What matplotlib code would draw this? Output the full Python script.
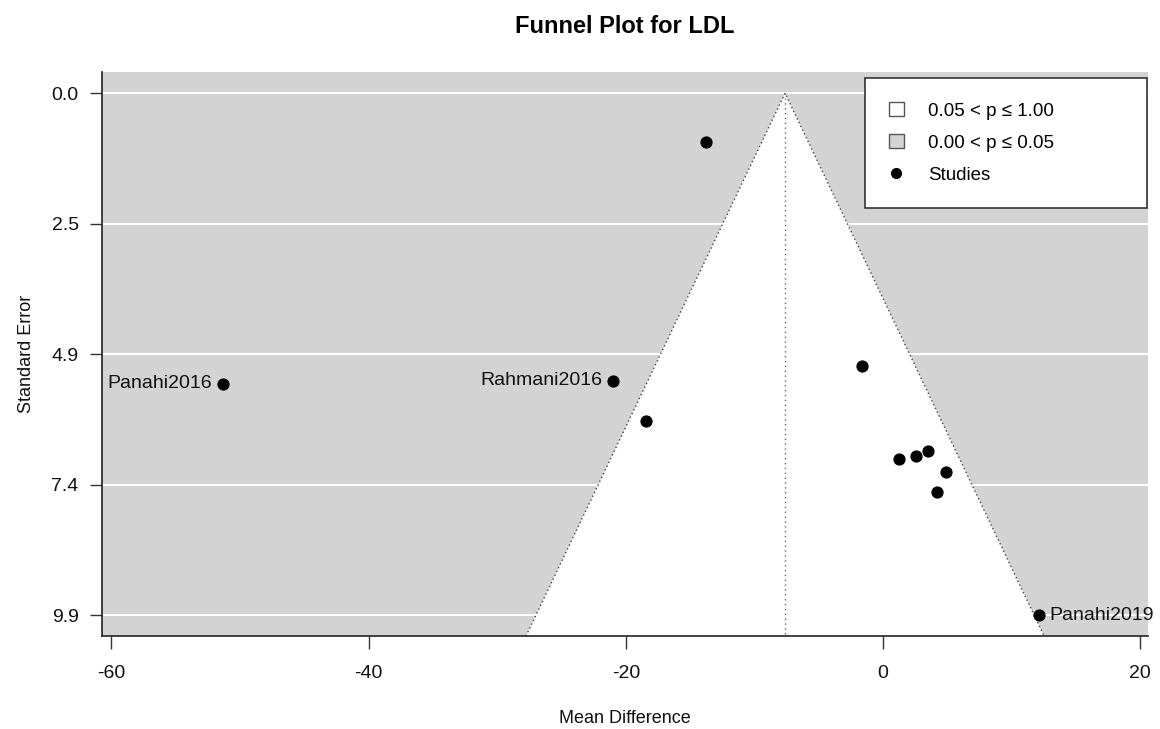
import numpy as np
import matplotlib.pyplot as plt
from matplotlib.patches import Patch, Polygon
from matplotlib.lines import Line2D

plt.rcParams['font.family'] = ['Liberation Sans', 'DejaVu Sans']
plt.rcParams['axes.unicode_minus'] = False

# study estimates (mean difference) and standard errors
est = [-13.73, -51.3, -20.96, -18.42, -1.61, 1.27, 2.59, 3.47, 4.92, 4.17, 12.16]
se = [0.915, 5.50, 5.44, 6.21, 5.17, 6.92, 6.86, 6.78, 7.17, 7.55, 9.88]
labels = ['', 'Panahi2016', 'Rahmani2016', '', '', '', '', '', '', '', 'Panahi2019']
label_side = ['', 'left', 'left', '', '', '', '', '', '', '', 'right']
pooled = -7.62
x_ticks = [-60, -40, -20, 0, 20]

fig = plt.figure(figsize=(11.6, 7.29), dpi=100)
ax = fig.add_axes([0.0882, 0.1276, 0.9015, 0.7732])

se_max = max(se)
pad = 0.04 * se_max
ylo, yhi = -pad, se_max + pad
ax.set_ylim(yhi, ylo)
ax.set_xlim(-60.7, 20.6)
ax.set_facecolor('#d3d3d3')

# white funnel (non-significant region)
z = 1.96
funnel = Polygon([(pooled - z * yhi, yhi), (pooled, 0), (pooled + z * yhi, yhi)],
                 closed=True, facecolor='white', edgecolor='none', zorder=1)
ax.add_patch(funnel)

yt = np.linspace(0, se_max, 5)
for y in yt:
    ax.axhline(y, color='white', lw=1.5, zorder=0.5)

ax.plot([pooled - z * yhi, pooled, pooled + z * yhi], [yhi, 0, yhi],
        color='#444444', lw=1, ls=(0, (1, 2)), zorder=2)
ax.plot([pooled, pooled], [0, yhi], color='#666666', lw=1, ls=(0, (1, 2.5)), zorder=2)

ax.plot(est, se, 'o', color='black', ms=7.8, zorder=3)
for x, y, lab, side in zip(est, se, labels, label_side):
    if not lab:
        continue
    if side == 'left':
        ax.text(x - 0.9, y, lab, ha='right', va='center', fontsize=14, color='#111111', zorder=4)
    else:
        ax.text(x + 0.8, y, lab, ha='left', va='center', fontsize=14, color='#111111', zorder=4)

ax.set_yticks(yt)
ax.set_yticklabels(['%.1f' % v for v in yt])
ax.set_xticks(x_ticks)
ax.tick_params(axis='both', direction='out', length=9, width=1, labelsize=14,
               colors='#333333', labelcolor='#111111')
ax.tick_params(axis='x', pad=12)
ax.tick_params(axis='y', pad=8)
for s in ['top', 'right']:
    ax.spines[s].set_visible(False)
for s in ['left', 'bottom']:
    ax.spines[s].set_color('#222222')
    ax.spines[s].set_linewidth(1.2)

ax.set_xlabel('Mean Difference', fontsize=13, labelpad=20, color='#111111')
ax.set_ylabel('Standard Error', fontsize=13, labelpad=12, color='#111111')
ax.set_title('Funnel Plot for LDL', fontsize=17, fontweight='bold', pad=28)

handles = [Patch(facecolor='white', edgecolor='#555555', label='0.05 < p ≤ 1.00'),
           Patch(facecolor='#d3d3d3', edgecolor='#555555', label='0.00 < p ≤ 0.05'),
           Line2D([], [], marker='o', color='black', ls='none', ms=7, label='Studies')]
leg = ax.legend(handles=handles, loc='upper left', bbox_to_anchor=(0.7294, 0.990, 0.2697, 0.0),
                mode='expand', borderaxespad=0, fancybox=False, fontsize=13.5, framealpha=1,
                edgecolor='#333333', handlelength=0.75, handleheight=0.75,
                handletextpad=1.3, borderpad=1.3, labelspacing=0.78)
leg.get_frame().set_linewidth(1.2)
leg.set_zorder(5)

fig.savefig('out.png', dpi=100)
